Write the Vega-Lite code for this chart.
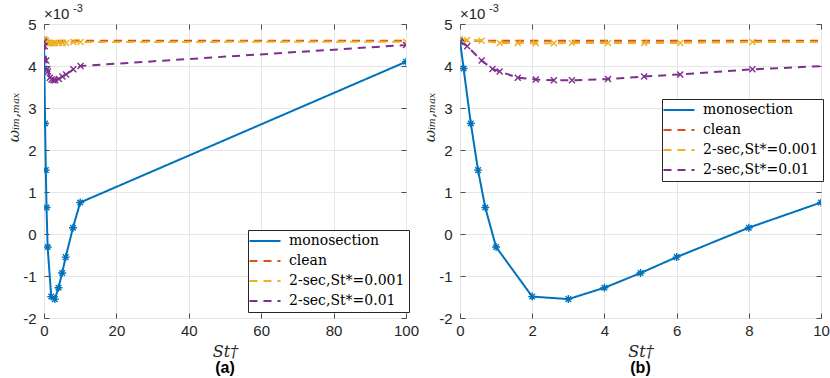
{
  "$schema": "https://vega.github.io/schema/vega-lite/v6.json",
  "padding": {"left": 5, "top": 2, "right": 0, "bottom": 0},
  "bounds": "flush",
  "spacing": 54,
  "background": "white",
  "datasets": {
    "d": [
      {"s": "monosection", "St": 0, "w": 4.6},
      {"s": "monosection", "St": 0.1, "w": 3.94},
      {"s": "monosection", "St": 0.3, "w": 2.63},
      {"s": "monosection", "St": 0.5, "w": 1.52},
      {"s": "monosection", "St": 0.7, "w": 0.63},
      {"s": "monosection", "St": 1, "w": -0.31},
      {"s": "monosection", "St": 2, "w": -1.49},
      {"s": "monosection", "St": 3, "w": -1.55},
      {"s": "monosection", "St": 4, "w": -1.28},
      {"s": "monosection", "St": 5, "w": -0.93},
      {"s": "monosection", "St": 6, "w": -0.55},
      {"s": "monosection", "St": 8, "w": 0.15},
      {"s": "monosection", "St": 10, "w": 0.75},
      {"s": "monosection", "St": 100, "w": 4.1},
      {"s": "clean", "St": 0, "w": 4.6},
      {"s": "clean", "St": 100, "w": 4.6},
      {"s": "2-sec,St*=0.001", "St": 0, "w": 4.64},
      {"s": "2-sec,St*=0.001", "St": 0.2, "w": 4.62},
      {"s": "2-sec,St*=0.001", "St": 0.6, "w": 4.6},
      {"s": "2-sec,St*=0.001", "St": 1.1, "w": 4.55},
      {"s": "2-sec,St*=0.001", "St": 1.6, "w": 4.55},
      {"s": "2-sec,St*=0.001", "St": 2.1, "w": 4.54},
      {"s": "2-sec,St*=0.001", "St": 2.6, "w": 4.54},
      {"s": "2-sec,St*=0.001", "St": 3.1, "w": 4.55},
      {"s": "2-sec,St*=0.001", "St": 4.1, "w": 4.55},
      {"s": "2-sec,St*=0.001", "St": 5.1, "w": 4.55},
      {"s": "2-sec,St*=0.001", "St": 6.1, "w": 4.55},
      {"s": "2-sec,St*=0.001", "St": 8.1, "w": 4.57},
      {"s": "2-sec,St*=0.001", "St": 10.1, "w": 4.57},
      {"s": "2-sec,St*=0.001", "St": 100, "w": 4.58},
      {"s": "2-sec,St*=0.01", "St": 0, "w": 4.58},
      {"s": "2-sec,St*=0.01", "St": 0.2, "w": 4.47},
      {"s": "2-sec,St*=0.01", "St": 0.6, "w": 4.13},
      {"s": "2-sec,St*=0.01", "St": 0.9, "w": 3.93},
      {"s": "2-sec,St*=0.01", "St": 1.1, "w": 3.87},
      {"s": "2-sec,St*=0.01", "St": 1.6, "w": 3.72},
      {"s": "2-sec,St*=0.01", "St": 2.1, "w": 3.68},
      {"s": "2-sec,St*=0.01", "St": 2.6, "w": 3.66},
      {"s": "2-sec,St*=0.01", "St": 3.1, "w": 3.66},
      {"s": "2-sec,St*=0.01", "St": 4.1, "w": 3.69},
      {"s": "2-sec,St*=0.01", "St": 5.1, "w": 3.75},
      {"s": "2-sec,St*=0.01", "St": 6.1, "w": 3.8},
      {"s": "2-sec,St*=0.01", "St": 8.1, "w": 3.92},
      {"s": "2-sec,St*=0.01", "St": 10.1, "w": 4.0},
      {"s": "2-sec,St*=0.01", "St": 100, "w": 4.5}
    ],
    "exp": [{"base": "×10", "pow": "-3"}]
  },
  "resolve": {"scale": {"color": "independent", "strokeDash": "independent", "shape": "independent"}},
  "hconcat": [
    {
      "width": 362,
      "height": 294,
      "title": {"text": "(a)", "orient": "bottom", "anchor": "middle", "frame": "group", "font": "Liberation Sans", "fontWeight": "bold", "fontSize": 16, "color": "#000000", "offset": 1},
      "resolve": {"axis": {"x": "independent", "y": "independent"}},
      "layer": [
        {
          "data": {"name": "d"},
          "mark": {"type": "line", "strokeWidth": 2, "clip": true},
          "encoding": {
            "x": {"field": "St", "type": "quantitative", "scale": {"domain": [0, 100], "nice": false}, "axis": {"values": [0, 20, 40, 60, 80, 100], "title": "St†", "titleFont": "DejaVu Serif", "titleFontStyle": "italic", "titleFontWeight": "normal", "titleFontSize": 16, "titleColor": "#262626", "titleY": 38, "titleBaseline": "alphabetic", "labelPadding": 10}},
            "y": {"field": "w", "type": "quantitative", "scale": {"domain": [-2, 5], "nice": false}, "axis": {"values": [-2, -1, 0, 1, 2, 3, 4, 5], "labelExpr": "datum.value < 0 ? '-' + abs(datum.value) : '' + datum.value", "title": "ωᵢₘ,ₘₐₓ", "titleFont": "DejaVu Serif", "titleFontStyle": "italic", "titleFontWeight": "normal", "titleFontSize": 15, "titleColor": "#262626", "titleAngle": 270, "titleX": -31, "titleY": 93, "titleAlign": "center", "titleBaseline": "middle", "labelPadding": 13}},
            "color": {"field": "s", "type": "nominal", "scale": {"domain": ["monosection", "clean", "2-sec,St*=0.001", "2-sec,St*=0.01"], "range": ["#0072BD", "#D95319", "#EDB120", "#7E2F8E"]}, "legend": {"orient": "none", "legendX": 204, "legendY": 206, "fillColor": "white", "strokeColor": "#262626", "labelFont": "DejaVu Serif"}},
            "strokeDash": {"field": "s", "type": "nominal", "scale": {"domain": ["monosection", "clean", "2-sec,St*=0.001", "2-sec,St*=0.01"], "range": [[1, 0], [8, 6], [8, 6], [8, 6]]}, "legend": {"orient": "none", "legendX": 204, "legendY": 206, "fillColor": "white", "strokeColor": "#262626", "labelFont": "DejaVu Serif"}}
          }
        },
        {
          "data": {"name": "d"},
          "transform": [{"filter": "datum.s !== 'clean'"}],
          "mark": {"type": "point", "filled": false, "strokeWidth": 1.4, "size": 64, "clip": true, "opacity": 1},
          "encoding": {
            "x": {"field": "St", "type": "quantitative", "axis": {"orient": "top", "values": [0, 20, 40, 60, 80, 100], "labels": false, "grid": false, "title": null}},
            "y": {"field": "w", "type": "quantitative", "axis": {"orient": "right", "values": [-2, -1, 0, 1, 2, 3, 4, 5], "labels": false, "grid": false, "title": null}},
            "color": {"field": "s", "type": "nominal"},
            "shape": {"field": "s", "type": "nominal", "scale": {"domain": ["monosection", "2-sec,St*=0.001", "2-sec,St*=0.01"], "range": ["M-1,0L1,0M0,-1L0,1M-0.7,-0.7L0.7,0.7M-0.7,0.7L0.7,-0.7", "M-0.75,-0.75L0.75,0.75M-0.75,0.75L0.75,-0.75", "M-0.75,-0.75L0.75,0.75M-0.75,0.75L0.75,-0.75"]}, "legend": null}
          }
        },
        {
          "data": {"name": "exp"},
          "mark": {"type": "text", "align": "left", "baseline": "alphabetic", "font": "Liberation Sans", "fontSize": 15, "color": "#262626", "dy": -5},
          "encoding": {"x": {"datum": 0, "type": "quantitative", "axis": null}, "y": {"datum": 5, "type": "quantitative", "axis": null}, "text": {"field": "base"}}
        },
        {
          "data": {"name": "exp"},
          "mark": {"type": "text", "align": "left", "baseline": "alphabetic", "font": "Liberation Sans", "fontSize": 11, "color": "#262626", "dx": 29, "dy": -12},
          "encoding": {"x": {"datum": 0, "type": "quantitative", "axis": null}, "y": {"datum": 5, "type": "quantitative", "axis": null}, "text": {"field": "pow"}}
        }
      ]
    },
    {
      "width": 361,
      "height": 294,
      "title": {"text": "(b)", "orient": "bottom", "anchor": "middle", "frame": "group", "font": "Liberation Sans", "fontWeight": "bold", "fontSize": 16, "color": "#000000", "offset": 1},
      "resolve": {"axis": {"x": "independent", "y": "independent"}},
      "layer": [
        {
          "data": {"name": "d"},
          "mark": {"type": "line", "strokeWidth": 2, "clip": true},
          "encoding": {
            "x": {"field": "St", "type": "quantitative", "scale": {"domain": [0, 10], "nice": false}, "axis": {"values": [0, 2, 4, 6, 8, 10], "title": "St†", "titleFont": "DejaVu Serif", "titleFontStyle": "italic", "titleFontWeight": "normal", "titleFontSize": 16, "titleColor": "#262626", "titleY": 38, "titleBaseline": "alphabetic", "labelPadding": 10}},
            "y": {"field": "w", "type": "quantitative", "scale": {"domain": [-2, 5], "nice": false}, "axis": {"values": [-2, -1, 0, 1, 2, 3, 4, 5], "labelExpr": "datum.value < 0 ? '-' + abs(datum.value) : '' + datum.value", "title": "ωᵢₘ,ₘₐₓ", "titleFont": "DejaVu Serif", "titleFontStyle": "italic", "titleFontWeight": "normal", "titleFontSize": 15, "titleColor": "#262626", "titleAngle": 270, "titleX": -31, "titleY": 93, "titleAlign": "center", "titleBaseline": "middle", "labelPadding": 13}},
            "color": {"field": "s", "type": "nominal", "scale": {"domain": ["monosection", "clean", "2-sec,St*=0.001", "2-sec,St*=0.01"], "range": ["#0072BD", "#D95319", "#EDB120", "#7E2F8E"]}, "legend": {"orient": "none", "legendX": 202, "legendY": 75, "fillColor": "white", "strokeColor": "#262626", "labelFont": "DejaVu Serif"}},
            "strokeDash": {"field": "s", "type": "nominal", "scale": {"domain": ["monosection", "clean", "2-sec,St*=0.001", "2-sec,St*=0.01"], "range": [[1, 0], [8, 6], [8, 6], [8, 6]]}, "legend": {"orient": "none", "legendX": 202, "legendY": 75, "fillColor": "white", "strokeColor": "#262626", "labelFont": "DejaVu Serif"}}
          }
        },
        {
          "data": {"name": "d"},
          "transform": [{"filter": "datum.s !== 'clean'"}],
          "mark": {"type": "point", "filled": false, "strokeWidth": 1.4, "size": 64, "clip": true, "opacity": 1},
          "encoding": {
            "x": {"field": "St", "type": "quantitative", "axis": {"orient": "top", "values": [0, 2, 4, 6, 8, 10], "labels": false, "grid": false, "title": null}},
            "y": {"field": "w", "type": "quantitative", "axis": {"orient": "right", "values": [-2, -1, 0, 1, 2, 3, 4, 5], "labels": false, "grid": false, "title": null}},
            "color": {"field": "s", "type": "nominal"},
            "shape": {"field": "s", "type": "nominal", "scale": {"domain": ["monosection", "2-sec,St*=0.001", "2-sec,St*=0.01"], "range": ["M-1,0L1,0M0,-1L0,1M-0.7,-0.7L0.7,0.7M-0.7,0.7L0.7,-0.7", "M-0.75,-0.75L0.75,0.75M-0.75,0.75L0.75,-0.75", "M-0.75,-0.75L0.75,0.75M-0.75,0.75L0.75,-0.75"]}, "legend": null}
          }
        },
        {
          "data": {"name": "exp"},
          "mark": {"type": "text", "align": "left", "baseline": "alphabetic", "font": "Liberation Sans", "fontSize": 15, "color": "#262626", "dy": -5},
          "encoding": {"x": {"datum": 0, "type": "quantitative", "axis": null}, "y": {"datum": 5, "type": "quantitative", "axis": null}, "text": {"field": "base"}}
        },
        {
          "data": {"name": "exp"},
          "mark": {"type": "text", "align": "left", "baseline": "alphabetic", "font": "Liberation Sans", "fontSize": 11, "color": "#262626", "dx": 29, "dy": -12},
          "encoding": {"x": {"datum": 0, "type": "quantitative", "axis": null}, "y": {"datum": 5, "type": "quantitative", "axis": null}, "text": {"field": "pow"}}
        }
      ]
    }
  ],
  "config": {
    "font": "Liberation Sans",
    "view": {"stroke": "#4d4d4d", "strokeWidth": 1},
    "axis": {"labelFont": "Liberation Sans", "labelFontSize": 15, "labelColor": "#262626", "gridColor": "#e6e6e6", "gridWidth": 1, "domain": false, "ticks": true, "tickColor": "#4d4d4d", "tickSize": -5, "labelFlush": false, "labelOverlap": false},
    "legend": {"title": null, "symbolType": "M-3,0L3,0", "symbolSize": 107, "symbolStrokeWidth": 2, "symbolOffset": 6, "labelFont": "DejaVu Serif", "labelFontSize": 14, "labelColor": "#000000", "padding": 4, "rowPadding": 6, "labelOffset": 17, "labelLimit": 300}
  }
}
